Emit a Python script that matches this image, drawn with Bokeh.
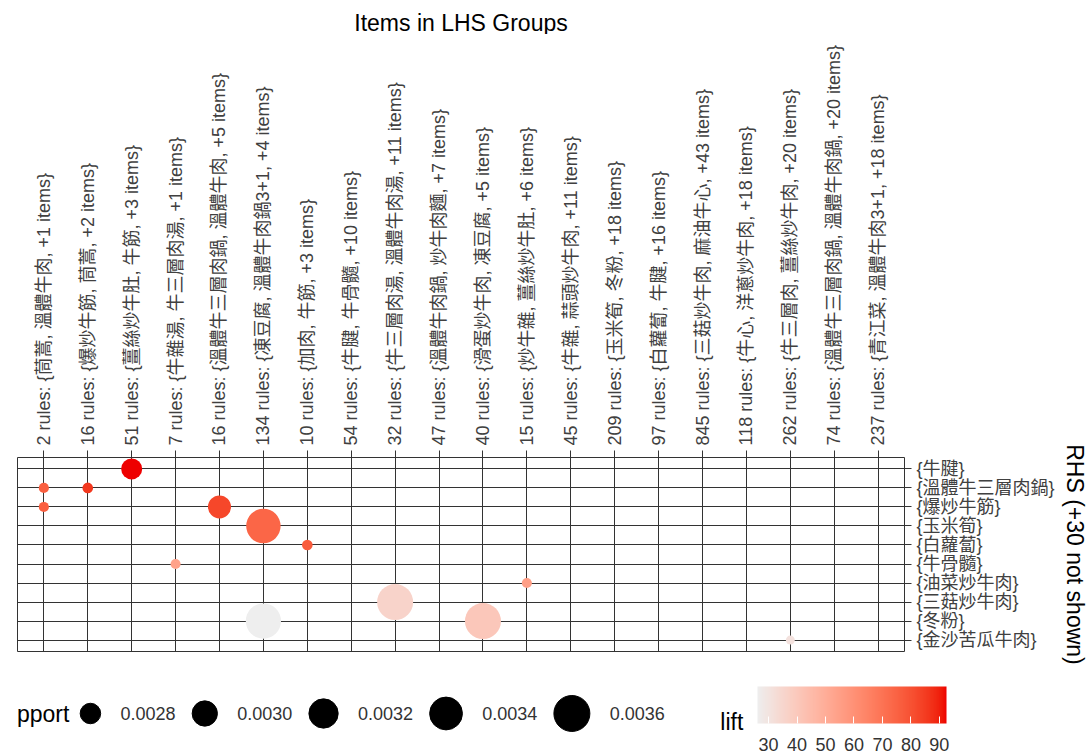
import numpy as np
from bokeh.plotting import figure
from bokeh.models import Range1d, Label, ColorBar, LinearColorMapper, ColumnDataSource, FixedTicker
from bokeh.layouts import column
from bokeh.embed import file_html
from bokeh.resources import INLINE
from bokeh.core.properties import value

# ---------------- data ----------------
title_text = "Items in LHS Groups"
lhs_groups = [
    "2 rules: {茼蒿, 溫體牛肉, +1 items}",
    "16 rules: {爆炒牛筋, 茼蒿, +2 items}",
    "51 rules: {薑絲炒牛肚, 牛筋, +3 items}",
    "7 rules: {牛雜湯, 牛三層肉湯, +1 items}",
    "16 rules: {溫體牛三層肉鍋, 溫體牛肉, +5 items}",
    "134 rules: {凍豆腐, 溫體牛肉鍋3+1, +4 items}",
    "10 rules: {加肉, 牛筋, +3 items}",
    "54 rules: {牛腱, 牛骨髓, +10 items}",
    "32 rules: {牛三層肉湯, 溫體牛肉湯, +11 items}",
    "47 rules: {溫體牛肉鍋, 炒牛肉麵, +7 items}",
    "40 rules: {滑蛋炒牛肉, 凍豆腐, +5 items}",
    "15 rules: {炒牛雜, 薑絲炒牛肚, +6 items}",
    "45 rules: {牛雜, 蒜頭炒牛肉, +11 items}",
    "209 rules: {玉米筍, 冬粉, +18 items}",
    "97 rules: {白蘿蔔, 牛腱, +16 items}",
    "845 rules: {三菇炒牛肉, 麻油牛心, +43 items}",
    "118 rules: {牛心, 洋蔥炒牛肉, +18 items}",
    "262 rules: {牛三層肉, 薑絲炒牛肉, +20 items}",
    "74 rules: {溫體牛三層肉鍋, 溫體牛肉鍋, +20 items}",
    "237 rules: {青江菜, 溫體牛肉3+1, +18 items}",
]
rhs_items = [
    "{牛腱}", "{溫體牛三層肉鍋}", "{爆炒牛筋}", "{玉米筍}", "{白蘿蔔}",
    "{牛骨髓}", "{油菜炒牛肉}", "{三菇炒牛肉}", "{冬粉}", "{金沙苦瓜牛肉}",
]
rhs_not_shown = 30

# one entry per plotted group (LHS group index, RHS item index), 1-based
cell_lhs = [3, 1, 2, 1, 5, 6, 7, 4, 12, 9, 6, 11, 18]
cell_rhs = [1, 2, 2, 3, 3, 4, 5, 6, 7, 8, 9, 9, 10]
cell_support = [0.00282, 0.00251, 0.00252, 0.00251, 0.00290, 0.00350, 0.00252,
                0.00251, 0.00251, 0.00360, 0.00355, 0.00360, 0.00249]
cell_lift = [92.5, 76.0, 86.0, 76.0, 82.5, 74.0, 77.0, 54.0, 55.0, 36.0, 26.1, 40.6, 30.8]

support_breaks = [0.0028, 0.0030, 0.0032, 0.0034, 0.0036]
support_labels = ["0.0028", "0.0030", "0.0032", "0.0034", "0.0036"]
lift_breaks = [30, 40, 50, 60, 70, 80, 90]
lift_limits = [26.1, 92.5]

# ---------------- styles / layout ----------------
FONT = "Liberation Sans, Noto Sans CJK TC"
AXIS_TXT = "#404040"
LOW_COL, HIGH_COL = "#EEEEEE", "#EE0000"
W = 1090
TITLE_H, MAIN_H, LEG_H = 34, 636, 86
B_LEFT, B_RIGHT, B_TOP, B_BOTTOM = 17, 182, 423, 19


def _hex2rgb(h):
    return np.array([int(h[i:i + 2], 16) for i in (1, 3, 5)]) / 255.0


_M = np.array([[0.4124564, 0.3575761, 0.1804375],
               [0.2126729, 0.7151522, 0.0721750],
               [0.0193339, 0.1191920, 0.9503041]])
_W = np.array([0.95047, 1.0, 1.08883])
_D = 6 / 29


def _to_lab(h):
    c = _hex2rgb(h)
    lin = np.where(c <= 0.04045, c / 12.92, ((c + 0.055) / 1.055) ** 2.4)
    xyz = _M @ lin / _W
    f = np.where(xyz > _D ** 3, np.cbrt(xyz), xyz / (3 * _D ** 2) + 4 / 29)
    return np.array([116 * f[1] - 16, 500 * (f[0] - f[1]), 200 * (f[1] - f[2])])


def _from_lab(lab):
    L, a, b = lab
    fy = (L + 16) / 116
    f = np.array([fy + a / 500, fy, fy - b / 200])
    xyz = np.where(f > _D, f ** 3, 3 * _D ** 2 * (f - 4 / 29)) * _W
    lin = np.linalg.solve(_M, xyz)
    lin = np.clip(lin, 0, 1)
    c = np.where(lin <= 0.0031308, 12.92 * lin, 1.055 * lin ** (1 / 2.4) - 0.055)
    r, g, bb = (np.clip(np.round(c * 255), 0, 255)).astype(int)
    return "#%02x%02x%02x" % (r, g, bb)


_lo, _hi = _to_lab(LOW_COL), _to_lab(HIGH_COL)
palette = [_from_lab(_lo + (_hi - _lo) * t) for t in np.linspace(0, 1, 256)]
mapper = LinearColorMapper(palette=palette, low=lift_limits[0], high=lift_limits[1])


def size_scale(s):
    s = np.asarray(s, dtype=float)
    return np.sqrt(420 + 1.095e6 * (s - 0.0028))


def strip(height):
    """A figure whose data units equal canvas pixels (frame aligned with the panel)."""
    f = figure(width=W, height=height, output_backend="svg", toolbar_location=None,
               x_range=Range1d(B_LEFT, W - B_RIGHT), y_range=Range1d(height, 0),
               x_axis_location=None, y_axis_location=None,
               min_border_left=B_LEFT, min_border_right=B_RIGHT,
               min_border_top=0, min_border_bottom=0)
    f.outline_line_color = None
    f.grid.visible = False
    return f


# ---------------- title strip ----------------
t = strip(TITLE_H)
t.text(x=[(B_LEFT + W - B_RIGHT) / 2], y=[22], text=[title_text],
       text_align="center", text_baseline="middle", text_font=value(FONT),
       text_font_size="23px", text_color="black")

# ---------------- main panel ----------------
n_l, n_r = len(lhs_groups), len(rhs_items)
p = figure(width=W, height=MAIN_H, output_backend="svg", toolbar_location=None,
           x_range=Range1d(0.4, n_l + 0.6), y_range=Range1d(n_r + 0.6, 0.4),
           x_axis_location="above", y_axis_location="right",
           min_border_left=B_LEFT, min_border_right=B_RIGHT, min_border_top=B_TOP,
           min_border_bottom=B_BOTTOM)
p.outline_line_color = "#333333"
p.background_fill_color = "white"

xt = list(range(1, n_l + 1))
yt = list(range(1, n_r + 1))
p.xaxis.ticker = FixedTicker(ticks=xt)
p.yaxis.ticker = FixedTicker(ticks=yt)
p.xgrid.ticker = FixedTicker(ticks=xt)
p.ygrid.ticker = FixedTicker(ticks=yt)
p.grid.grid_line_color = "#333333"
p.grid.grid_line_width = 1
p.grid.grid_line_alpha = 1

p.xaxis.major_label_overrides = {i + 1: s for i, s in enumerate(lhs_groups)}
p.yaxis.major_label_overrides = {i + 1: s for i, s in enumerate(rhs_items)}
p.xaxis.major_label_orientation = "vertical"
for ax in (p.xaxis, p.yaxis):
    ax.axis_line_color = None
    ax.major_tick_line_color = "#333333"
    ax.major_tick_out = 7
    ax.major_tick_in = 0
    ax.minor_tick_line_color = None
    ax.major_label_text_font = FONT
    ax.major_label_text_font_size = "18px"
    ax.major_label_text_color = AXIS_TXT
    ax.major_label_standoff = 5
p.yaxis.axis_label = "RHS (+%d not shown)" % rhs_not_shown
p.yaxis.axis_label_text_font = FONT
p.yaxis.axis_label_text_font_size = "23px"
p.yaxis.axis_label_text_font_style = "normal"
p.yaxis.axis_label_text_color = "black"
p.yaxis.axis_label_standoff = 4

src = ColumnDataSource(dict(lhs=cell_lhs, rhs=cell_rhs, support=cell_support,
                            lift=cell_lift, size=size_scale(cell_support)))
p.scatter(x="lhs", y="rhs", size="size", source=src, marker="circle",
          fill_color={"field": "lift", "transform": mapper}, line_color=None)

# ---------------- legend strip ----------------
q = strip(LEG_H)
d = size_scale(support_breaks)
lefts = 80 + np.concatenate([[0], np.cumsum(d[:-1] + 92)])
centers = lefts + d / 2
q.scatter(x=centers, y=[43] * len(d), size=d, marker="circle", color="black")
q.text(x=lefts + d + 20, y=[43] * len(d), text=support_labels,
       text_baseline="middle", text_font=value(FONT), text_font_size="18px",
       text_color="#333333")
q.add_layout(Label(x=-8, y=43, text="support", text_baseline="middle",
                   text_font=FONT, text_font_size="23px", text_color="black"))
q.text(x=[723], y=[51], text=["lift"], text_baseline="middle",
       text_font=value(FONT), text_font_size="23px", text_color="black")

cb = ColorBar(color_mapper=mapper, orientation="horizontal", width=189, height=37,
              ticker=FixedTicker(ticks=lift_breaks), location=(757 - B_LEFT, 3),
              padding=0,
              major_label_text_font=FONT, major_label_text_font_size="18px",
              major_label_text_color="#333333", label_standoff=14,
              major_tick_line_color="white", major_tick_in=7, major_tick_out=0,
              minor_tick_line_color=None, bar_line_color=None,
              border_line_color=None, background_fill_alpha=0)
q.add_layout(cb, "center")

open("out.html", "w").write(file_html(column(t, p, q, spacing=0), INLINE))
